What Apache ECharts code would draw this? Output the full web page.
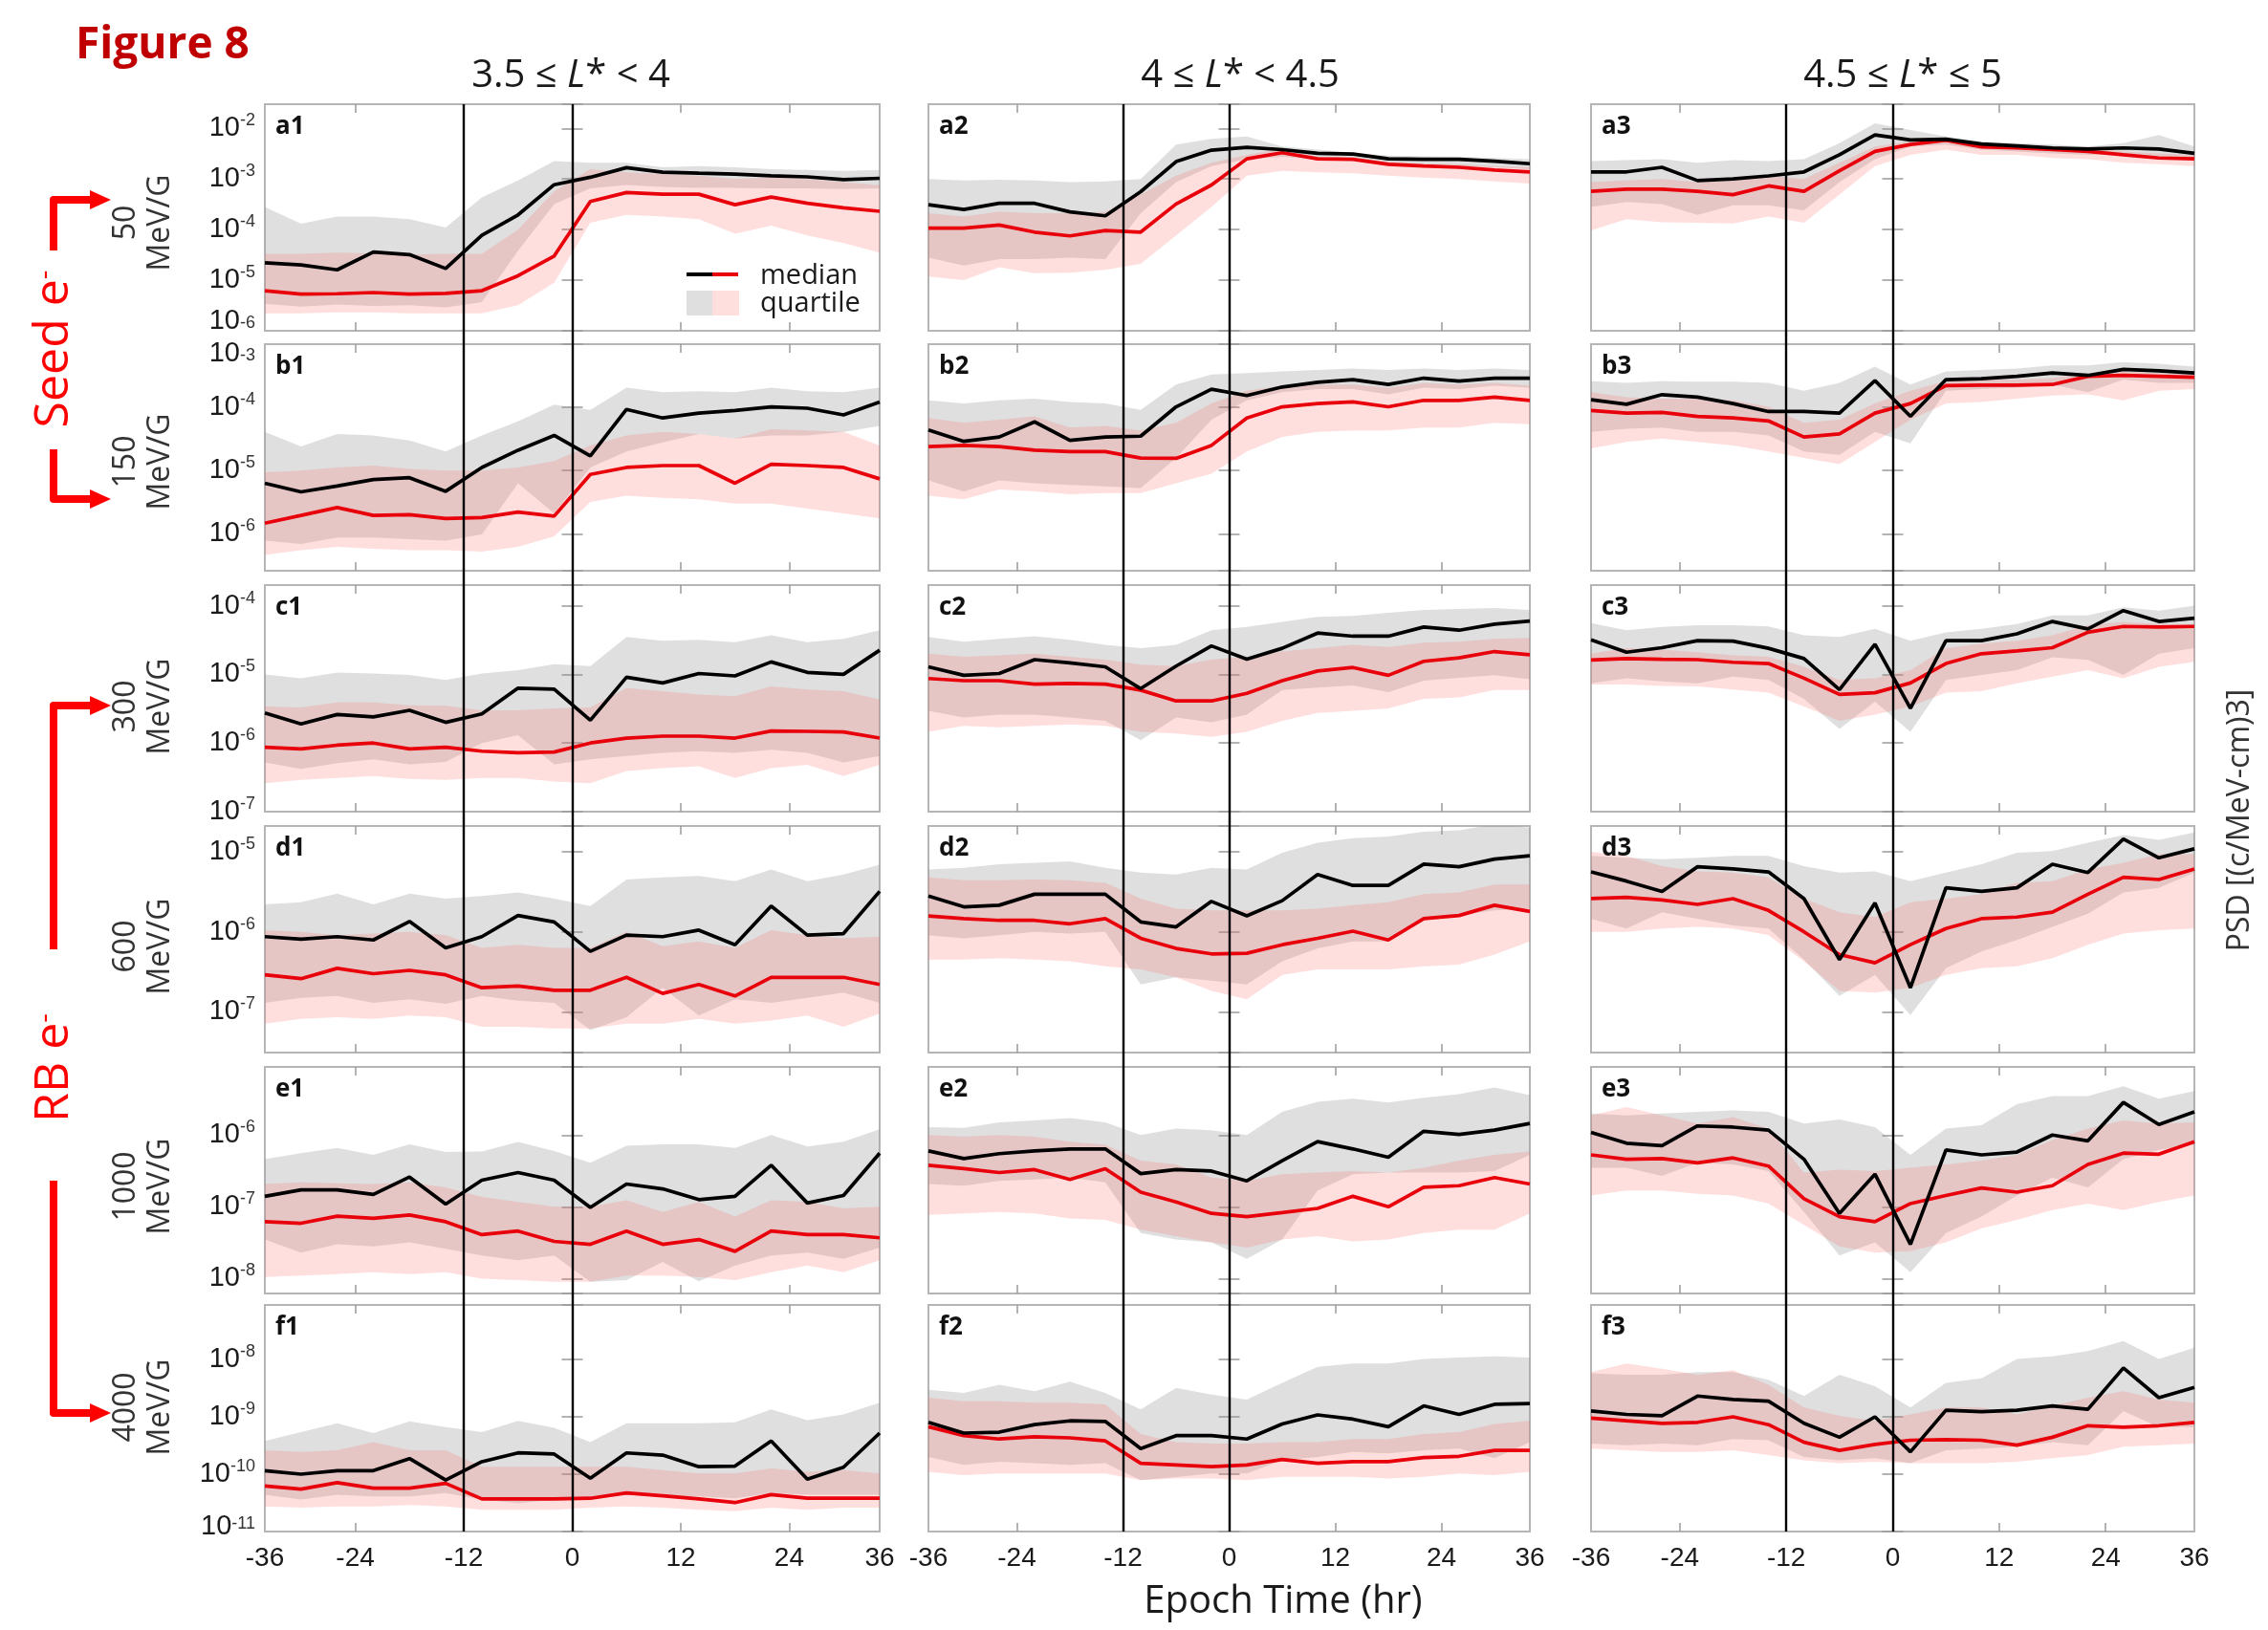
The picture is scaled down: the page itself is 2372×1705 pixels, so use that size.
<!DOCTYPE html>
<html><head><meta charset="utf-8">
<script src="https://cdn.jsdelivr.net/npm/echarts@6/dist/echarts.min.js"></script>
<style>html,body{margin:0;padding:0;background:#fff}#chart{width:2372px;height:1705px}</style>
</head><body><div id="chart"></div>
<script>
// ---------------- DATA ----------------
const epochHours = [-34,-30,-26,-22,-18,-14,-10,-6,-2,2,6,10,14,18,22,26,30,34];
const xTickValues = [-34,-24,-12,0,12,24,34];
const xTickLabels = ['-36','-24','-12','0','12','24','36'];
const xTickMarks = [-24,-12,0,12,24];
const eventLines = [-12, 0];
const rowIds = ['a','b','c','d','e','f'];
const energyLabels = ['50','150','300','600','1000','4000'];
const colTitleParts = [['3.5 \u2264 ','L','* < 4'],['4 \u2264 ','L','* < 4.5'],['4.5 \u2264 ','L','* \u2264 5']];
const yMinByRow = [1e-6, 2.6e-7, 1e-7, 3.1e-8, 6.2e-9, 1e-11];
const yMaxByRow = [3.0e-2, 1e-3, 2.0e-4, 2.1e-5, 8.9e-6, 8.9e-8];

// a row (50 MeV/G)
const a1_blackMed = [2.2e-5,2.0e-5,1.6e-5,3.6e-5,3.2e-5,1.7e-5,7.7e-5,1.95e-4,7.7e-4,1.08e-3,1.67e-3,1.36e-3,1.3e-3,1.25e-3,1.16e-3,1.1e-3,9.7e-4,1.03e-3];
const a1_redMed   = [6.2e-6,5.3e-6,5.4e-6,5.7e-6,5.3e-6,5.5e-6,6.2e-6,1.22e-5,3.0e-5,3.6e-4,5.4e-4,5.0e-4,5.0e-4,3.1e-4,4.4e-4,3.3e-4,2.7e-4,2.3e-4];
const a1_grayLo   = [3.4e-6,3.0e-6,3.3e-6,3.1e-6,3.2e-6,2.9e-6,3.7e-6,3.8e-5,3.2e-4,6.5e-4,7.6e-4,7.0e-4,6.7e-4,6.7e-4,6.5e-4,6.5e-4,6.3e-4,6.5e-4];
const a1_grayHi   = [2.8e-4,1.3e-4,1.8e-4,1.8e-4,1.6e-4,1.1e-4,4.3e-4,9.3e-4,2.25e-3,2.1e-3,2.1e-3,1.7e-3,1.8e-3,1.7e-3,1.55e-3,1.5e-3,1.45e-3,1.5e-3];
const a1_pinkLo   = [2.2e-6,2.2e-6,2.3e-6,2.3e-6,2.2e-6,2.2e-6,2.2e-6,3.2e-6,8.9e-6,1.37e-4,1.96e-4,1.8e-4,1.6e-4,8.3e-5,1.2e-4,7.7e-5,5.4e-5,3.5e-5];
const a1_pinkHi   = [3.3e-5,3.3e-5,3.5e-5,3.4e-5,3.2e-5,3.3e-5,3.3e-5,1.0e-4,5.7e-4,1.56e-3,1.35e-3,1.25e-3,1.16e-3,1.0e-3,1.08e-3,1.0e-3,8.7e-4,7.5e-4];

const a2_blackMed = [3.1e-4,2.5e-4,3.3e-4,3.3e-4,2.24e-4,1.87e-4,5.6e-4,2.2e-3,3.7e-3,4.2e-3,3.8e-3,3.2e-3,3.1e-3,2.5e-3,2.45e-3,2.45e-3,2.25e-3,2.0e-3];
const a2_redMed   = [1.07e-4,1.07e-4,1.23e-4,8.9e-5,7.5e-5,9.6e-5,8.9e-5,3.2e-4,7.6e-4,2.5e-3,3.3e-3,2.5e-3,2.45e-3,1.95e-3,1.8e-3,1.7e-3,1.5e-3,1.38e-3];
const a2_grayLo   = [2.8e-5,1.95e-5,2.6e-5,2.6e-5,2.8e-5,2.6e-5,2.1e-4,8.7e-4,1.8e-3,2.45e-3,2.75e-3,2.45e-3,2.25e-3,1.95e-3,1.87e-3,1.8e-3,1.7e-3,1.55e-3];
const a2_grayHi   = [1.0e-3,9.3e-4,9.7e-4,9.3e-4,8.7e-4,8.9e-4,1.0e-3,4.8e-3,6.2e-3,6.9e-3,4.4e-3,3.8e-3,3.3e-3,2.9e-3,2.8e-3,2.75e-3,2.6e-3,2.45e-3];
const a2_pinkLo   = [1.18e-5,1.0e-5,1.8e-5,1.37e-5,1.4e-5,1.6e-5,2.1e-5,7.7e-5,2.8e-4,1.16e-3,1.45e-3,1.35e-3,1.3e-3,1.16e-3,1.07e-3,1.0e-3,8.9e-4,8.1e-4];
const a2_pinkHi   = [2.1e-4,1.8e-4,2.25e-4,2.1e-4,2.1e-4,2.25e-4,4.9e-4,1.16e-3,2.1e-3,3.0e-3,4.0e-3,2.75e-3,2.6e-3,2.2e-3,2.0e-3,1.95e-3,1.8e-3,1.7e-3];

const a3_blackMed = [1.38e-3,1.38e-3,1.7e-3,9.3e-4,1.0e-3,1.15e-3,1.38e-3,3.0e-3,7.4e-3,5.9e-3,6.1e-3,4.9e-3,4.5e-3,4.1e-3,3.9e-3,4.1e-3,3.9e-3,3.2e-3];
const a3_redMed   = [5.7e-4,6.3e-4,6.3e-4,5.7e-4,4.9e-4,7.3e-4,5.7e-4,1.45e-3,3.5e-3,4.8e-3,5.8e-3,4.3e-3,4.1e-3,3.8e-3,3.5e-3,3.0e-3,2.6e-3,2.5e-3];
const a3_grayLo   = [2.8e-4,3.5e-4,3.2e-4,1.95e-4,3.0e-4,3.0e-4,2.4e-4,8.7e-4,2.45e-3,4.4e-3,4.8e-3,3.8e-3,3.5e-3,3.2e-3,3.0e-3,3.0e-3,2.75e-3,2.35e-3];
const a3_grayHi   = [2.25e-3,2.35e-3,2.45e-3,2.1e-3,2.35e-3,2.25e-3,2.45e-3,5.1e-3,1.26e-2,9.3e-3,6.9e-3,5.5e-3,5.1e-3,4.8e-3,4.4e-3,5.1e-3,7.4e-3,4.4e-3];
const a3_pinkLo   = [9.6e-5,1.6e-4,1.4e-4,1.37e-4,1.32e-4,1.8e-4,1.37e-4,4.9e-4,1.8e-3,3.0e-3,3.8e-3,3.0e-3,3.0e-3,2.6e-3,2.45e-3,2.1e-3,1.95e-3,1.8e-3];
const a3_pinkHi   = [8.7e-4,9.3e-4,1.0e-3,8.7e-4,9.3e-4,1.16e-3,1.0e-3,2.1e-3,4.4e-3,5.5e-3,6.4e-3,5.1e-3,4.8e-3,4.4e-3,4.1e-3,3.5e-3,3.2e-3,3.0e-3];

// b row (150 MeV/G)
const b1_blackMed = [6.3e-6,4.6e-6,5.7e-6,7.2e-6,7.7e-6,4.7e-6,1.12e-5,2.1e-5,3.6e-5,1.7e-5,9.3e-5,6.8e-5,8.1e-5,8.9e-5,1.02e-4,9.7e-5,7.6e-5,1.22e-4];
const b1_redMed   = [1.47e-6,1.95e-6,2.6e-6,1.95e-6,2.0e-6,1.74e-6,1.8e-6,2.2e-6,1.9e-6,8.7e-6,1.12e-5,1.2e-5,1.2e-5,6.3e-6,1.26e-5,1.2e-5,1.12e-5,7.4e-6];
const b1_grayLo   = [7.8e-7,6.9e-7,8.7e-7,8.7e-7,8.2e-7,7.8e-7,9.8e-7,6.3e-6,2.1e-6,1.12e-5,2.0e-5,2.8e-5,3.8e-5,3.2e-5,3.6e-5,3.6e-5,4.1e-5,5.1e-5];
const b1_grayHi   = [4.1e-5,2.4e-5,3.8e-5,3.6e-5,3.0e-5,2.0e-5,3.6e-5,6.0e-5,1.1e-4,9.1e-5,2.05e-4,1.74e-4,1.8e-4,1.74e-4,2.05e-4,1.8e-4,1.74e-4,2.05e-4];
const b1_pinkLo   = [4.6e-7,5.5e-7,6.2e-7,5.8e-7,5.5e-7,5.5e-7,5.2e-7,6.2e-7,9.1e-7,3.2e-6,4.0e-6,3.7e-6,3.5e-6,3.0e-6,3.0e-6,2.5e-6,2.1e-6,1.75e-6];
const b1_pinkHi   = [9.4e-6,1.0e-5,1.12e-5,1.2e-5,1.06e-5,1.0e-5,1.0e-5,1.12e-5,1.41e-5,2.5e-5,3.6e-5,4.1e-5,3.8e-5,3.2e-5,4.5e-5,4.3e-5,4.1e-5,2.5e-5];

const b2_blackMed = [4.4e-5,2.9e-5,3.4e-5,5.9e-5,3.0e-5,3.4e-5,3.5e-5,1.02e-4,1.94e-4,1.54e-4,2.1e-4,2.5e-4,2.75e-4,2.3e-4,2.9e-4,2.6e-4,2.9e-4,2.9e-4];
const b2_redMed   = [2.4e-5,2.5e-5,2.4e-5,2.1e-5,2.0e-5,2.0e-5,1.58e-5,1.56e-5,2.5e-5,6.8e-5,1.02e-4,1.15e-4,1.22e-4,1.02e-4,1.29e-4,1.29e-4,1.45e-4,1.29e-4];
const b2_grayLo   = [7.0e-6,4.7e-6,7.0e-6,6.3e-6,5.9e-6,5.6e-6,5.3e-6,1.58e-5,6.4e-5,1.29e-4,1.73e-4,1.94e-4,1.94e-4,1.6e-4,2.05e-4,1.94e-4,2.2e-4,2.05e-4];
const b2_grayHi   = [1.29e-4,1.15e-4,1.29e-4,1.37e-4,1.22e-4,1.15e-4,9.1e-5,2.3e-4,3.3e-4,3.5e-4,3.7e-4,3.9e-4,4.1e-4,3.9e-4,4.1e-4,3.9e-4,4.1e-4,3.9e-4];
const b2_pinkLo   = [4.0e-6,3.5e-6,5.0e-6,4.7e-6,4.2e-6,4.4e-6,4.4e-6,6.3e-6,8.9e-6,2.0e-5,3.4e-5,4.1e-5,4.3e-5,4.3e-5,4.8e-5,4.8e-5,5.7e-5,5.4e-5];
const b2_pinkHi   = [6.8e-5,5.7e-5,6.4e-5,7.2e-5,4.8e-5,5.1e-5,4.3e-5,5.7e-5,1.15e-4,1.83e-4,2.2e-4,2.3e-4,2.3e-4,2.05e-4,2.45e-4,2.3e-4,2.45e-4,2.2e-4];

const b3_blackMed = [1.32e-4,1.12e-4,1.59e-4,1.45e-4,1.15e-4,8.6e-5,8.6e-5,8.1e-5,2.65e-4,7.2e-5,2.75e-4,2.85e-4,3.1e-4,3.5e-4,3.2e-4,4.0e-4,3.8e-4,3.5e-4];
const b3_redMed   = [8.9e-5,8.1e-5,8.3e-5,7.2e-5,6.8e-5,6.1e-5,3.4e-5,3.8e-5,8.1e-5,1.15e-4,2.2e-4,2.25e-4,2.25e-4,2.3e-4,3.1e-4,3.2e-4,3.1e-4,3.0e-4];
const b3_grayLo   = [4.1e-5,4.6e-5,4.8e-5,4.1e-5,4.1e-5,3.6e-5,2.0e-5,1.78e-5,4.1e-5,2.7e-5,1.83e-4,1.94e-4,2.05e-4,2.3e-4,1.73e-4,2.75e-4,2.45e-4,2.45e-4];
const b3_grayHi   = [2.6e-4,2.45e-4,2.6e-4,2.55e-4,2.55e-4,2.45e-4,1.83e-4,2.45e-4,4.4e-4,2.3e-4,3.7e-4,3.9e-4,4.1e-4,4.6e-4,4.6e-4,5.2e-4,4.9e-4,4.4e-4];
const b3_pinkLo   = [2.25e-5,2.85e-5,3.2e-5,2.85e-5,2.5e-5,2.0e-5,1.58e-5,1.26e-5,2.85e-5,6.4e-5,1.15e-4,1.22e-4,1.37e-4,1.54e-4,1.6e-4,1.29e-4,1.83e-4,1.94e-4];
const b3_pinkHi   = [1.73e-4,1.45e-4,1.37e-4,1.37e-4,1.29e-4,1.02e-4,5.7e-5,6.4e-5,1.15e-4,1.83e-4,2.6e-4,2.75e-4,2.75e-4,2.9e-4,3.5e-4,3.7e-4,3.5e-4,3.3e-4];

// c row (300 MeV/G)
const c1_blackMed = [2.75e-6,1.9e-6,2.6e-6,2.4e-6,3.0e-6,2.0e-6,2.65e-6,6.3e-6,6.1e-6,2.15e-6,9.1e-6,7.5e-6,1.03e-5,9.5e-6,1.52e-5,1.07e-5,1.0e-5,2.25e-5];
const c1_redMed   = [8.7e-7,8.2e-7,9.3e-7,1.0e-6,8.2e-7,8.7e-7,7.6e-7,7.2e-7,7.4e-7,1.0e-6,1.18e-6,1.26e-6,1.26e-6,1.18e-6,1.5e-6,1.48e-6,1.45e-6,1.18e-6];
const c1_grayLo   = [5.2e-7,4.2e-7,5.1e-7,5.8e-7,4.9e-7,5.3e-7,1.0e-6,1.3e-6,4.9e-7,5.8e-7,6.5e-7,7.2e-7,7.6e-7,7.2e-7,8.0e-7,7.2e-7,5.2e-7,6.5e-7];
const c1_grayHi   = [1.0e-5,8.8e-6,1.06e-5,1.03e-5,9.8e-6,8.3e-6,1.03e-5,1.15e-5,1.41e-5,1.32e-5,3.5e-5,3.1e-5,3.2e-5,2.95e-5,3.7e-5,2.95e-5,3.3e-5,4.4e-5];
const c1_pinkLo   = [2.6e-7,2.9e-7,3.1e-7,3.3e-7,3.0e-7,2.9e-7,3.1e-7,3.1e-7,2.75e-7,2.6e-7,3.9e-7,4.3e-7,4.6e-7,3.1e-7,4.3e-7,4.8e-7,3.3e-7,4.8e-7];
const c1_pinkHi   = [3.4e-6,3.3e-6,3.9e-6,3.9e-6,3.55e-6,3.5e-6,3.0e-6,3.0e-6,3.2e-6,3.3e-6,6.3e-6,5.7e-6,5.1e-6,4.8e-6,6.7e-6,6.0e-6,5.7e-6,4.3e-6];

const c2_blackMed = [1.29e-5,9.7e-6,1.03e-5,1.64e-5,1.47e-5,1.29e-5,6.2e-6,1.32e-5,2.6e-5,1.67e-5,2.4e-5,4.0e-5,3.6e-5,3.6e-5,4.9e-5,4.4e-5,5.4e-5,6.0e-5];
const c2_redMed   = [8.7e-6,8.1e-6,8.1e-6,7.2e-6,7.4e-6,7.2e-6,5.9e-6,4.1e-6,4.1e-6,5.3e-6,8.1e-6,1.12e-5,1.26e-5,9.7e-6,1.55e-5,1.74e-5,2.15e-5,1.93e-5];
const c2_grayLo   = [2.95e-6,2.35e-6,2.6e-6,2.6e-6,2.35e-6,2.1e-6,1.1e-6,2.35e-6,2.0e-6,2.6e-6,5.9e-6,6.4e-6,6.9e-6,5.5e-6,8.1e-6,8.9e-6,9.7e-6,8.5e-6];
const c2_grayHi   = [3.5e-5,3.0e-5,3.3e-5,3.6e-5,3.2e-5,2.7e-5,2.4e-5,2.7e-5,4.4e-5,4.9e-5,5.8e-5,6.9e-5,7.1e-5,7.9e-5,8.7e-5,9.0e-5,9.3e-5,8.7e-5];
const c2_pinkLo   = [1.45e-6,1.78e-6,1.7e-6,1.78e-6,1.86e-6,1.78e-6,1.45e-6,1.38e-6,1.23e-6,1.45e-6,2.1e-6,2.75e-6,2.95e-6,3.2e-6,4.4e-6,4.6e-6,5.9e-6,5.9e-6];
const c2_pinkHi   = [2.0e-5,1.8e-5,1.9e-5,2.0e-5,1.8e-5,1.64e-5,1.38e-5,1.32e-5,1.64e-5,1.8e-5,2.15e-5,2.4e-5,2.7e-5,2.5e-5,2.9e-5,3.0e-5,3.3e-5,3.4e-5];

const c3_blackMed = [3.2e-5,2.1e-5,2.45e-5,3.1e-5,3.05e-5,2.4e-5,1.7e-5,6.0e-6,2.75e-5,3.2e-6,3.1e-5,3.1e-5,3.9e-5,5.9e-5,4.6e-5,8.5e-5,5.9e-5,6.6e-5];
const c3_redMed   = [1.62e-5,1.7e-5,1.66e-5,1.64e-5,1.5e-5,1.44e-5,8.8e-6,5.1e-6,5.4e-6,7.5e-6,1.44e-5,2.0e-5,2.2e-5,2.45e-5,4.1e-5,5.0e-5,4.9e-5,5.0e-5];
const c3_grayLo   = [7.4e-6,8.8e-6,7.9e-6,7.4e-6,9.3e-6,8.3e-6,4.4e-6,1.6e-6,4.0e-6,1.45e-6,8.3e-6,9.8e-6,1.15e-5,1.78e-5,1.62e-5,9.8e-6,2.0e-5,2.4e-5];
const c3_grayHi   = [5.6e-5,4.4e-5,4.9e-5,5.2e-5,5.2e-5,5.0e-5,3.7e-5,3.5e-5,4.6e-5,3.1e-5,4.1e-5,4.6e-5,5.4e-5,7.2e-5,7.2e-5,9.5e-5,8.5e-5,1.0e-4];
const c3_pinkLo   = [7.1e-6,7.1e-6,6.8e-6,6.7e-6,6.0e-6,5.4e-6,3.4e-6,2.1e-6,2.6e-6,3.4e-6,5.4e-6,5.7e-6,7.4e-6,9.3e-6,1.15e-5,8.8e-6,1.29e-5,1.52e-5];
const c3_pinkHi   = [2.0e-5,2.4e-5,2.3e-5,2.1e-5,1.9e-5,1.8e-5,1.29e-5,8.3e-6,8.8e-6,1.15e-5,2.4e-5,2.8e-5,3.1e-5,3.7e-5,5.2e-5,5.8e-5,5.4e-5,5.4e-5];

// d row (600 MeV/G)
const d1_blackMed = [8.7e-7,8.1e-7,8.7e-7,7.9e-7,1.35e-6,6.3e-7,8.7e-7,1.6e-6,1.33e-6,5.7e-7,9.1e-7,8.7e-7,1.05e-6,6.9e-7,2.1e-6,9.1e-7,9.5e-7,3.2e-6];
const d1_redMed   = [2.9e-7,2.6e-7,3.5e-7,3.0e-7,3.3e-7,2.9e-7,2.0e-7,2.1e-7,1.86e-7,1.86e-7,2.7e-7,1.7e-7,2.2e-7,1.58e-7,2.7e-7,2.7e-7,2.7e-7,2.2e-7];
const d1_grayLo   = [1.3e-7,1.5e-7,1.58e-7,1.3e-7,1.44e-7,1.26e-7,1.58e-7,1.38e-7,1.3e-7,5.9e-8,8.6e-8,2.0e-7,9.0e-8,1.44e-7,1.3e-7,1.5e-7,1.74e-7,1.3e-7];
const d1_grayHi   = [2.2e-6,2.35e-6,3.0e-6,2.2e-6,3.0e-6,2.6e-6,2.8e-6,3.1e-6,2.6e-6,2.1e-6,4.5e-6,4.8e-6,5.0e-6,4.3e-6,6.0e-6,4.3e-6,5.2e-6,6.9e-6];
const d1_pinkLo   = [7.1e-8,8.2e-8,8.6e-8,8.2e-8,9.0e-8,8.6e-8,6.5e-8,6.5e-8,6.2e-8,6.2e-8,7.1e-8,7.1e-8,8.2e-8,7.1e-8,7.8e-8,9.0e-8,6.5e-8,9.5e-8];
const d1_pinkHi   = [1.05e-6,1.0e-6,9.1e-7,9.5e-7,1.0e-6,9.1e-7,6.3e-7,6.9e-7,6.3e-7,6.3e-7,1.0e-6,6.6e-7,7.6e-7,6.3e-7,1.05e-6,9.1e-7,8.3e-7,8.7e-7];

const d2_blackMed = [2.8e-6,2.05e-6,2.15e-6,2.95e-6,2.95e-6,2.95e-6,1.33e-6,1.15e-6,2.4e-6,1.58e-6,2.45e-6,5.2e-6,3.8e-6,3.8e-6,7.0e-6,6.5e-6,8.1e-6,8.9e-6];
const d2_redMed   = [1.58e-6,1.46e-6,1.39e-6,1.39e-6,1.26e-6,1.46e-6,8.3e-7,6.2e-7,5.3e-7,5.4e-7,6.9e-7,8.3e-7,1.02e-6,7.9e-7,1.46e-6,1.6e-6,2.15e-6,1.8e-6];
const d2_grayLo   = [9.1e-7,8.3e-7,9.1e-7,1.0e-6,9.5e-7,1.0e-6,2.2e-7,2.7e-7,2.45e-7,2.2e-7,4.3e-7,6.2e-7,7.6e-7,7.6e-7,1.39e-6,1.6e-6,1.85e-6,1.94e-6];
const d2_grayHi   = [6.0e-6,6.3e-6,7.0e-6,7.3e-6,7.6e-6,6.3e-6,5.5e-6,5.2e-6,6.3e-6,6.0e-6,9.7e-6,1.3e-5,1.48e-5,1.55e-5,1.78e-5,1.85e-5,2.2e-5,2.0e-5];
const d2_pinkLo   = [4.5e-7,4.5e-7,4.7e-7,4.5e-7,4.3e-7,3.7e-7,3.4e-7,2.7e-7,1.83e-7,1.44e-7,2.9e-7,3.4e-7,3.4e-7,3.4e-7,3.7e-7,3.9e-7,5.2e-7,7.6e-7];
const d2_pinkHi   = [4.8e-6,4.4e-6,4.4e-6,4.5e-6,4.4e-6,4.1e-6,2.6e-6,1.94e-6,1.85e-6,1.85e-6,1.85e-6,1.94e-6,2.15e-6,2.35e-6,2.95e-6,3.1e-6,3.9e-6,3.9e-6];

const d3_blackMed = [5.6e-6,4.3e-6,3.2e-6,6.5e-6,6.1e-6,5.6e-6,2.6e-6,4.5e-7,2.3e-6,2.0e-7,3.55e-6,3.2e-6,3.55e-6,7.0e-6,5.5e-6,1.44e-5,8.4e-6,1.09e-5];
const d3_redMed   = [2.6e-6,2.7e-6,2.5e-6,2.2e-6,2.6e-6,1.85e-6,1.0e-6,5.2e-7,4.1e-7,6.9e-7,1.1e-6,1.46e-6,1.53e-6,1.76e-6,2.95e-6,4.8e-6,4.5e-6,6.1e-6];
const d3_grayLo   = [1.46e-6,1.1e-6,1.76e-6,1.46e-6,1.2e-6,1.1e-6,4.5e-7,1.58e-7,2.9e-7,9.1e-8,3.5e-7,5.7e-7,7.9e-7,1.15e-6,1.68e-6,3.1e-6,3.55e-6,5.5e-6];
const d3_grayHi   = [8.9e-6,8.4e-6,8.1e-6,8.4e-6,8.9e-6,8.9e-6,6.6e-6,5.5e-6,5.7e-6,4.3e-6,5.5e-6,7.0e-6,9.7e-6,1.02e-5,1.3e-5,1.62e-5,1.41e-5,1.75e-5];
const d3_pinkLo   = [1.0e-6,1.0e-6,1.1e-6,1.15e-6,1.1e-6,9.1e-7,4.3e-7,1.83e-7,1.74e-7,2.0e-7,2.9e-7,3.5e-7,3.7e-7,4.7e-7,6.9e-7,9.5e-7,1.05e-6,1.1e-6];
const d3_pinkHi   = [1.0e-5,8.9e-6,6.6e-6,5.7e-6,5.5e-6,4.8e-6,2.6e-6,1.76e-6,1.53e-6,2.35e-6,2.6e-6,2.95e-6,4.1e-6,4.3e-6,6.0e-6,7.3e-6,9.3e-6,9.3e-6];

// e row (1000 MeV/G)
const e1_blackMed = [1.4e-7,1.72e-7,1.72e-7,1.49e-7,2.6e-7,1.09e-7,2.35e-7,3.0e-7,2.35e-7,9.8e-8,2.08e-7,1.78e-7,1.26e-7,1.4e-7,3.8e-7,1.13e-7,1.44e-7,5.6e-7];
const e1_redMed   = [6.2e-8,5.9e-8,7.4e-8,6.9e-8,7.7e-8,6.2e-8,4.1e-8,4.6e-8,3.3e-8,3.0e-8,4.6e-8,3.0e-8,3.5e-8,2.4e-8,4.6e-8,4.1e-8,4.1e-8,3.7e-8];
const e1_grayLo   = [3.5e-8,2.3e-8,3.0e-8,2.8e-8,3.2e-8,2.6e-8,2.1e-8,1.8e-8,2.1e-8,9.0e-9,9.5e-9,1.7e-8,9.2e-9,1.52e-8,2.1e-8,2.3e-8,1.88e-8,2.7e-8];
const e1_grayHi   = [4.6e-7,5.6e-7,6.6e-7,5.3e-7,7.4e-7,5.8e-7,5.9e-7,8.0e-7,6.0e-7,4.1e-7,7.1e-7,7.4e-7,7.4e-7,6.6e-7,1.0e-6,6.9e-7,8.1e-7,1.2e-6];
const e1_pinkLo   = [1.05e-8,1.1e-8,1.15e-8,1.23e-8,1.15e-8,1.23e-8,1.0e-8,9.5e-9,9.0e-9,9.0e-9,1.1e-8,1.1e-8,1.05e-8,9.5e-9,1.23e-8,1.52e-8,1.23e-8,1.8e-8];
const e1_pinkHi   = [2.08e-7,2.2e-7,2.13e-7,2.08e-7,2.2e-7,1.87e-7,1.37e-7,1.17e-7,1.0e-7,1.0e-7,1.23e-7,8.5e-8,1.17e-7,7.3e-8,1.23e-7,1.17e-7,9.5e-8,1.0e-7];

const e2_blackMed = [6.0e-7,4.7e-7,5.5e-7,6.0e-7,6.4e-7,6.4e-7,2.9e-7,3.3e-7,3.15e-7,2.3e-7,4.4e-7,8.1e-7,6.4e-7,4.9e-7,1.13e-6,1.02e-6,1.17e-6,1.45e-6];
const e2_redMed   = [3.8e-7,3.4e-7,3.0e-7,3.3e-7,2.4e-7,3.4e-7,1.6e-7,1.17e-7,8.1e-8,7.3e-8,8.3e-8,9.5e-8,1.4e-7,1.0e-7,1.87e-7,1.97e-7,2.56e-7,2.08e-7];
const e2_grayLo   = [2.08e-7,1.97e-7,2.3e-7,2.4e-7,2.56e-7,2.2e-7,4.3e-8,3.5e-8,3.2e-8,1.88e-8,3.5e-8,1.69e-7,2.85e-7,3.0e-7,3.0e-7,3.0e-7,3.15e-7,5.3e-7];
const e2_grayHi   = [1.29e-6,1.26e-6,1.5e-6,1.6e-6,1.72e-6,1.5e-6,1.0e-6,1.23e-6,1.17e-6,1.0e-6,2.1e-6,2.9e-6,3.2e-6,2.85e-6,3.3e-6,3.7e-6,4.6e-6,3.6e-6];
const e2_pinkLo   = [7.7e-8,8.1e-8,8.5e-8,8.1e-8,6.9e-8,6.6e-8,4.8e-8,3.9e-8,3.2e-8,2.7e-8,3.5e-8,3.9e-8,3.3e-8,3.5e-8,4.3e-8,4.8e-8,4.8e-8,8.1e-8];
const e2_pinkHi   = [1.0e-6,9.5e-7,1.0e-6,9.5e-7,8.1e-7,7.3e-7,4.4e-7,3.9e-7,2.56e-7,2.3e-7,2.85e-7,3.0e-7,3.15e-7,3.0e-7,3.5e-7,4.4e-7,5.3e-7,5.9e-7];

const e3_blackMed = [1.09e-6,7.7e-7,7.1e-7,1.34e-6,1.29e-6,1.17e-6,4.6e-7,8.1e-8,2.85e-7,3.0e-8,6.2e-7,5.3e-7,5.8e-7,1.0e-6,8.3e-7,2.85e-6,1.4e-6,2.1e-6];
const e3_redMed   = [5.3e-7,4.6e-7,4.7e-7,4.1e-7,4.8e-7,3.7e-7,1.3e-7,7.3e-8,6.2e-8,1.11e-7,1.44e-7,1.83e-7,1.6e-7,1.97e-7,3.9e-7,5.6e-7,5.4e-7,8.1e-7];
const e3_grayLo   = [3.5e-7,3.5e-7,2.7e-7,4.1e-7,3.9e-7,3.15e-7,8.5e-8,2.1e-8,3.2e-8,1.23e-8,4.3e-8,7.3e-8,1.44e-7,2.56e-7,1.87e-7,4.6e-7,6.2e-7,7.3e-7];
const e3_grayHi   = [2.0e-6,1.87e-6,2.0e-6,2.1e-6,2.2e-6,2.1e-6,1.45e-6,1.65e-6,1.29e-6,5.3e-7,1.23e-6,1.37e-6,2.7e-6,3.5e-6,3.5e-6,4.8e-6,3.2e-6,4.1e-6];
const e3_pinkLo   = [1.44e-7,1.69e-7,1.69e-7,1.52e-7,1.44e-7,1.11e-7,5.6e-8,2.8e-8,2.3e-8,2.4e-8,3.2e-8,5.0e-8,6.6e-8,9.0e-8,1.11e-7,9.0e-8,1.17e-7,1.44e-7];
const e3_pinkHi   = [1.87e-6,2.45e-6,1.87e-6,1.45e-6,1.78e-6,1.23e-6,3.0e-7,3.3e-7,3.15e-7,3.5e-7,3.9e-7,4.4e-7,5.3e-7,8.5e-7,1.23e-6,1.6e-6,1.45e-6,1.5e-6];

// f row (4000 MeV/G)
const f1_blackMed = [1.15e-10,1.0e-10,1.15e-10,1.15e-10,1.87e-10,7.9e-11,1.65e-10,2.35e-10,2.24e-10,8.5e-11,2.35e-10,2.15e-10,1.35e-10,1.38e-10,3.8e-10,8.2e-11,1.32e-10,5.2e-10];
const f1_redMed   = [6.2e-11,5.5e-11,7.1e-11,5.7e-11,5.7e-11,6.9e-11,3.7e-11,3.7e-11,3.7e-11,3.8e-11,4.7e-11,4.2e-11,3.7e-11,3.2e-11,4.4e-11,3.8e-11,3.8e-11,3.8e-11];
const f1_grayLo   = [4.4e-11,3.6e-11,4.4e-11,4.1e-11,4.1e-11,4.7e-11,3.6e-11,3.1e-11,3.6e-11,4.1e-11,4.4e-11,4.1e-11,4.1e-11,3.8e-11,4.7e-11,4.4e-11,4.4e-11,4.4e-11];
const f1_grayHi   = [3.8e-10,5.4e-10,7.7e-10,5.2e-10,8.3e-10,6.6e-10,5.4e-10,8.5e-10,6.4e-10,3.6e-10,7.7e-10,7.7e-10,7.7e-10,8.0e-10,1.35e-9,8.7e-10,1.1e-9,1.76e-9];
const f1_pinkLo   = [2.75e-11,2.6e-11,2.75e-11,2.75e-11,2.9e-11,2.75e-11,2.4e-11,2.4e-11,2.4e-11,2.6e-11,2.75e-11,2.6e-11,2.4e-11,2.25e-11,2.6e-11,2.4e-11,2.6e-11,2.6e-11];
const f1_pinkHi   = [2.6e-10,2.45e-10,2.6e-10,3.6e-10,2.6e-10,2.6e-10,1.35e-10,1.35e-10,1.35e-10,1.35e-10,1.35e-10,1.18e-10,1.03e-10,1.03e-10,1.26e-10,1.1e-10,1.18e-10,1.03e-10];

const f2_blackMed = [8.0e-10,5.2e-10,5.4e-10,7.3e-10,8.5e-10,8.3e-10,2.8e-10,4.7e-10,4.7e-10,4.1e-10,7.5e-10,1.08e-9,9.1e-10,6.7e-10,1.55e-9,1.1e-9,1.65e-9,1.7e-9];
const f2_redMed   = [6.7e-10,4.7e-10,4.1e-10,4.5e-10,4.3e-10,3.8e-10,1.55e-10,1.45e-10,1.35e-10,1.45e-10,1.8e-10,1.55e-10,1.65e-10,1.65e-10,1.95e-10,2.05e-10,2.6e-10,2.6e-10];
const f2_grayLo   = [2.0e-10,1.45e-10,1.65e-10,1.55e-10,1.45e-10,1.55e-10,7.9e-11,8.9e-11,1.03e-10,1.03e-10,1.75e-10,2.0e-10,2.45e-10,2.3e-10,2.6e-10,2.8e-10,1.9e-10,3.6e-10];
const f2_grayHi   = [2.95e-9,2.6e-9,3.6e-9,2.8e-9,4.1e-9,2.6e-9,1.35e-9,3.2e-9,2.45e-9,2.0e-9,3.9e-9,7.4e-9,8.5e-9,8.5e-9,1.02e-8,1.08e-8,1.13e-8,1.08e-8];
const f2_pinkLo   = [1.1e-10,9.6e-11,1.03e-10,1.03e-10,1.03e-10,1.03e-10,7.9e-11,8.4e-11,8.4e-11,7.9e-11,9.0e-11,9.0e-11,9.0e-11,8.4e-11,9.0e-11,1.03e-10,9.6e-11,1.1e-10];
const f2_pinkHi   = [2.15e-9,1.87e-9,1.87e-9,1.76e-9,1.76e-9,1.65e-9,5.0e-10,3.6e-10,3.4e-10,3.4e-10,3.6e-10,3.6e-10,4.1e-10,4.1e-10,5.0e-10,5.4e-10,7.5e-10,8.5e-10];

const f3_blackMed = [1.26e-9,1.1e-9,1.04e-9,2.3e-9,2.0e-9,1.87e-9,7.7e-10,4.4e-10,1.0e-9,2.45e-10,1.3e-9,1.23e-9,1.3e-9,1.55e-9,1.35e-9,7.1e-9,2.15e-9,3.25e-9];
const f3_redMed   = [9.5e-10,8.5e-10,7.7e-10,8.0e-10,1.0e-9,7.3e-10,3.6e-10,2.6e-10,3.3e-10,3.9e-10,4.0e-10,3.9e-10,3.2e-10,4.4e-10,7.0e-10,6.6e-10,7.0e-10,8.0e-10];
const f3_grayLo   = [3.4e-10,3.2e-10,3.4e-10,3.2e-10,4.1e-10,3.9e-10,2.0e-10,1.75e-10,1.9e-10,1.55e-10,2.6e-10,2.8e-10,3.0e-10,3.6e-10,3.2e-10,1.26e-9,6.6e-10,6.6e-10];
const f3_grayHi   = [5.7e-9,5.4e-9,5.4e-9,6.0e-9,6.0e-9,4.4e-9,2.3e-9,5.4e-9,3.4e-9,1.45e-9,3.9e-9,4.7e-9,1.02e-8,1.13e-8,1.4e-8,2.1e-8,1.02e-8,1.6e-8];
const f3_pinkLo   = [2.8e-10,2.6e-10,2.45e-10,2.45e-10,2.6e-10,2.15e-10,1.75e-10,1.55e-10,1.65e-10,1.55e-10,1.55e-10,1.55e-10,1.65e-10,1.9e-10,2.15e-10,3.0e-10,3.2e-10,3.4e-10];
const f3_pinkHi   = [6.0e-9,8.5e-9,6.9e-9,5.4e-9,6.5e-9,3.6e-9,1.45e-9,1.04e-9,8.5e-10,1.1e-9,1.45e-9,1.45e-9,1.1e-9,1.55e-9,2.15e-9,2.8e-9,2.0e-9,1.76e-9];

const PANELS = {
  a1:{bm:a1_blackMed,rm:a1_redMed,gl:a1_grayLo,gh:a1_grayHi,pl:a1_pinkLo,ph:a1_pinkHi},
  a2:{bm:a2_blackMed,rm:a2_redMed,gl:a2_grayLo,gh:a2_grayHi,pl:a2_pinkLo,ph:a2_pinkHi},
  a3:{bm:a3_blackMed,rm:a3_redMed,gl:a3_grayLo,gh:a3_grayHi,pl:a3_pinkLo,ph:a3_pinkHi},
  b1:{bm:b1_blackMed,rm:b1_redMed,gl:b1_grayLo,gh:b1_grayHi,pl:b1_pinkLo,ph:b1_pinkHi},
  b2:{bm:b2_blackMed,rm:b2_redMed,gl:b2_grayLo,gh:b2_grayHi,pl:b2_pinkLo,ph:b2_pinkHi},
  b3:{bm:b3_blackMed,rm:b3_redMed,gl:b3_grayLo,gh:b3_grayHi,pl:b3_pinkLo,ph:b3_pinkHi},
  c1:{bm:c1_blackMed,rm:c1_redMed,gl:c1_grayLo,gh:c1_grayHi,pl:c1_pinkLo,ph:c1_pinkHi},
  c2:{bm:c2_blackMed,rm:c2_redMed,gl:c2_grayLo,gh:c2_grayHi,pl:c2_pinkLo,ph:c2_pinkHi},
  c3:{bm:c3_blackMed,rm:c3_redMed,gl:c3_grayLo,gh:c3_grayHi,pl:c3_pinkLo,ph:c3_pinkHi},
  d1:{bm:d1_blackMed,rm:d1_redMed,gl:d1_grayLo,gh:d1_grayHi,pl:d1_pinkLo,ph:d1_pinkHi},
  d2:{bm:d2_blackMed,rm:d2_redMed,gl:d2_grayLo,gh:d2_grayHi,pl:d2_pinkLo,ph:d2_pinkHi},
  d3:{bm:d3_blackMed,rm:d3_redMed,gl:d3_grayLo,gh:d3_grayHi,pl:d3_pinkLo,ph:d3_pinkHi},
  e1:{bm:e1_blackMed,rm:e1_redMed,gl:e1_grayLo,gh:e1_grayHi,pl:e1_pinkLo,ph:e1_pinkHi},
  e2:{bm:e2_blackMed,rm:e2_redMed,gl:e2_grayLo,gh:e2_grayHi,pl:e2_pinkLo,ph:e2_pinkHi},
  e3:{bm:e3_blackMed,rm:e3_redMed,gl:e3_grayLo,gh:e3_grayHi,pl:e3_pinkLo,ph:e3_pinkHi},
  f1:{bm:f1_blackMed,rm:f1_redMed,gl:f1_grayLo,gh:f1_grayHi,pl:f1_pinkLo,ph:f1_pinkHi},
  f2:{bm:f2_blackMed,rm:f2_redMed,gl:f2_grayLo,gh:f2_grayHi,pl:f2_pinkLo,ph:f2_pinkHi},
  f3:{bm:f3_blackMed,rm:f3_redMed,gl:f3_grayLo,gh:f3_grayHi,pl:f3_pinkLo,ph:f3_pinkHi}
};

// ---------------- LAYOUT / STYLE ----------------
const COL_LEFT = [277, 971, 1664];
const COL_W = [643, 629, 631];
const ROW_TOP = [109, 360, 612, 864, 1116, 1365];
const ROW_H = 237;
const MIN_LABEL_LIFT = [10, 0, 0, 0, 0, 5];   // nudge of edge tick labels (px)
const MAX_LABEL_DROP = [0, 10, 0, 0, 0, 0];
const GRAY = 'rgba(150,150,150,0.30)';
const PINK = 'rgba(255,105,105,0.22)';
const BLACK = '#000000';
const RED = '#e8000b';
const FRAME = '#b5b5b5';
const TICK = '#9a9a9a';
const SANS = '"Open Sans", "Noto Sans", sans-serif';
const TICKFONT = '"Liberation Sans", Arial, sans-serif';

const grids = [], xAxes = [], yAxes = [], series = [], graphics = [];

const makeYLabelFmt = r => v => {
  const e = Math.log10(v), n = Math.round(e);
  if (Math.abs(e - n) > 0.02) return '';
  let sfx = '';
  if (MIN_LABEL_LIFT[r] && Math.abs(e - Math.log10(yMinByRow[r])) < 0.05) sfx = 'L';
  if (MAX_LABEL_DROP[r] && Math.abs(e - Math.log10(yMaxByRow[r])) < 0.05) sfx = 'H';
  return '{b' + sfx + '|10}{s' + sfx + '|' + n + '}';
};
const makeRich = r => {
  const lift = MIN_LABEL_LIFT[r], drop = MAX_LABEL_DROP[r];
  const b = {fontSize: 29, fontFamily: TICKFONT, color: '#1a1a1a', lineHeight: 34};
  const s = {fontSize: 18, fontFamily: TICKFONT, color: '#333', lineHeight: 18, verticalAlign: 'top'};
  return {
    b: b, s: s,
    bL: Object.assign({}, b, {padding: [0, 0, 2 * lift, 0]}), sL: Object.assign({}, s, {padding: [0, 0, 2 * lift, 0]}),
    bH: Object.assign({}, b, {padding: [2 * drop, 0, 0, 0]}), sH: Object.assign({}, s, {padding: [2 * drop, 0, 0, 0]})
  };
};
const xLabelFmt = v => {
  const i = xTickValues.indexOf(v);
  return i >= 0 ? xTickLabels[i] : '';
};
const pairs = arr => epochHours.map((x, i) => [x, arr[i]]);

// quartile band: one filled polygon between lower and upper quartile, mapped via the axis scales
const bandSeries = (k, name, lo, hi, color) => ({
  type: 'custom', name: name, xAxisIndex: 2 * k, yAxisIndex: 2 * k, silent: true, animation: false, clip: true,
  data: epochHours.map((x, i) => [x, lo[i], hi[i]]),
  encode: {x: 0, y: [1, 2]},
  renderItem: (params, api) => {
    if (params.dataIndex !== 0) return null;
    const upper = epochHours.map((x, i) => api.coord([x, hi[i]]));
    const lower = epochHours.map((x, i) => api.coord([x, lo[i]])).reverse();
    return {type: 'polygon', shape: {points: upper.concat(lower)}, style: {fill: color}};
  }
});

rowIds.forEach((rid, r) => {
  [0, 1, 2].forEach(c => {
    const k = r * 3 + c;
    const key = rid + (c + 1);
    const p = PANELS[key];
    grids.push({left: COL_LEFT[c], top: ROW_TOP[r], width: COL_W[c], height: ROW_H,
      show: true, borderColor: FRAME, borderWidth: 2, backgroundColor: 'rgba(0,0,0,0)', outerBoundsMode: 'none'});
    const xBase = {type: 'value', gridIndex: k, min: -34, max: 34,
      axisLine: {show: false}, splitLine: {show: false}};
    xAxes.push(Object.assign({}, xBase, {position: 'bottom',
      axisTick: {show: true, inside: true, length: 9, customValues: xTickMarks, lineStyle: {color: TICK, width: 1.5}},
      axisLabel: {show: r === 5, customValues: xTickValues, formatter: xLabelFmt, fontSize: 28,
        fontFamily: TICKFONT, color: '#1a1a1a', margin: 14}}));
    xAxes.push(Object.assign({}, xBase, {position: 'top',
      axisTick: {show: true, inside: true, length: 9, customValues: xTickMarks, lineStyle: {color: TICK, width: 1.5}},
      axisLabel: {show: false}}));
    const yBase = {type: 'log', logBase: 10, gridIndex: k, min: yMinByRow[r], max: yMaxByRow[r],
      axisLine: {show: false}, splitLine: {show: false},
      axisTick: {show: true, inside: true, length: 11, lineStyle: {color: TICK, width: 1.5}}};
    yAxes.push(Object.assign({}, yBase, {position: 'left',
      axisLabel: {show: c === 0, formatter: makeYLabelFmt(r), margin: 10, rich: makeRich(r)}}));
    yAxes.push(Object.assign({}, yBase, {position: 'right', axisLabel: {show: false}}));

    const common = {type: 'line', xAxisIndex: 2 * k, yAxisIndex: 2 * k, symbol: 'none', silent: true, animation: false};
    series.push(bandSeries(k, key + ' gray quartile', p.gl, p.gh, GRAY));
    series.push(bandSeries(k, key + ' pink quartile', p.pl, p.ph, PINK));
    series.push(Object.assign({}, common, {name: key + ' red median', data: pairs(p.rm), lineStyle: {color: RED, width: 3.7}}));
    series.push(Object.assign({}, common, {name: key + ' black median', data: pairs(p.bm), lineStyle: {color: BLACK, width: 3.7}}));

    graphics.push({type: 'text', x: COL_LEFT[c] + 11, y: ROW_TOP[r] + 24, z: 50,
      style: {text: key, font: 'bold 26px ' + SANS, fill: '#111', verticalAlign: 'middle'}});
  });
});

// overlay grids carrying the epoch reference lines across each column
[0, 1, 2].forEach(c => {
  const gi = 18 + c;
  grids.push({left: COL_LEFT[c], top: ROW_TOP[0], width: COL_W[c], height: ROW_TOP[5] + ROW_H - ROW_TOP[0], show: false, outerBoundsMode: 'none'});
  xAxes.push({type: 'value', gridIndex: gi, min: -34, max: 34, show: false});
  yAxes.push({type: 'value', gridIndex: gi, min: 0, max: 1, show: false});
  series.push({type: 'line', xAxisIndex: 36 + c, yAxisIndex: 36 + c, data: [], z: 10, silent: true, animation: false,
    markLine: {silent: true, symbol: ['none', 'none'], label: {show: false}, animation: false,
      lineStyle: {color: '#000', width: 2.4, type: 'solid'},
      data: eventLines.map(v => ({xAxis: v}))}});
});

// ---------------- TEXT & ANNOTATIONS ----------------
graphics.push({type: 'text', x: 79, y: 48, style: {text: 'Figure 8', font: 'bold 46px ' + SANS, fill: '#c00000', verticalAlign: 'middle'}});
const titleX = [597, 1297, 1990];
colTitleParts.forEach((t, c) => {
  graphics.push({type: 'text', x: titleX[c], y: 80, style: {
    text: t[0] + '{i|' + t[1] + '}' + t[2], font: '40px ' + SANS, fill: '#1a1a1a', align: 'center', verticalAlign: 'middle',
    rich: {i: {fontStyle: 'italic', fontSize: 40, fontFamily: SANS, fill: '#1a1a1a'}}}});
});
const rowLabelY = [233, 483, 739, 990, 1241, 1472];
energyLabels.forEach((e, r) => {
  graphics.push({type: 'text', x: 150, y: rowLabelY[r], rotation: Math.PI / 2, style: {
    text: e + '\nMeV/G', font: '32px ' + SANS, fill: '#333', align: 'center', verticalAlign: 'middle', lineHeight: 36}});
});
graphics.push({type: 'text', x: 1342, y: 1676, style: {text: 'Epoch Time (hr)', font: '40px ' + SANS, fill: '#1a1a1a', align: 'center', verticalAlign: 'middle'}});
graphics.push({type: 'text', x: 2343, y: 858, rotation: Math.PI / 2, style: {text: 'PSD [(c/MeV-cm)3]', font: '32px ' + SANS, fill: '#333', align: 'center', verticalAlign: 'middle'}});

// legend (inside a1)
graphics.push({type: 'line', shape: {x1: 718, y1: 287, x2: 745, y2: 287}, style: {stroke: BLACK, lineWidth: 4}, z: 60});
graphics.push({type: 'line', shape: {x1: 745, y1: 287, x2: 772, y2: 287}, style: {stroke: RED, lineWidth: 4}, z: 60});
graphics.push({type: 'rect', shape: {x: 718, y: 304, width: 27, height: 26}, style: {fill: GRAY}, z: 60});
graphics.push({type: 'rect', shape: {x: 745, y: 304, width: 28, height: 26}, style: {fill: PINK}, z: 60});
graphics.push({type: 'text', x: 795, y: 289, z: 60, style: {text: 'median', font: '29px ' + SANS, fill: '#1a1a1a', verticalAlign: 'middle'}});
graphics.push({type: 'text', x: 795, y: 318, z: 60, style: {text: 'quartile', font: '29px ' + SANS, fill: '#1a1a1a', verticalAlign: 'middle'}});

// red bracket annotations
const ANN = '#ff0000';
const bracket = pts => ({type: 'polyline', shape: {points: pts}, style: {stroke: ANN, lineWidth: 8, fill: null, lineJoin: 'round'}});
const arrow = y => ({type: 'polygon', shape: {points: [[94, y - 10], [116, y], [94, y + 10]]}, style: {fill: ANN}});
graphics.push(bracket([[56, 262], [56, 209], [96, 209]]), arrow(209));
graphics.push(bracket([[56, 470], [56, 522], [96, 522]]), arrow(522));
graphics.push(bracket([[56, 993], [56, 738], [96, 738]]), arrow(738));
graphics.push(bracket([[56, 1235], [56, 1478], [96, 1478]]), arrow(1478));
graphics.push({type: 'text', x: 57, y: 365, rotation: Math.PI / 2, style: {
  text: 'Seed e{s|-}', font: '50px ' + SANS, fill: ANN, align: 'center', verticalAlign: 'middle',
  rich: {s: {fontSize: 30, fontFamily: SANS, fill: ANN, verticalAlign: 'top', lineHeight: 20}}}});
graphics.push({type: 'text', x: 57, y: 1117, rotation: Math.PI / 2, style: {
  text: 'RB e{s|-}', font: '50px ' + SANS, fill: ANN, align: 'center', verticalAlign: 'middle',
  rich: {s: {fontSize: 30, fontFamily: SANS, fill: ANN, verticalAlign: 'top', lineHeight: 20}}}});

const chart = echarts.init(document.getElementById('chart'), null, {renderer: 'canvas'});
chart.setOption({
  backgroundColor: '#ffffff',
  animation: false,
  grid: grids,
  xAxis: xAxes,
  yAxis: yAxes,
  series: series,
  graphic: graphics
});
</script>
</body></html>
